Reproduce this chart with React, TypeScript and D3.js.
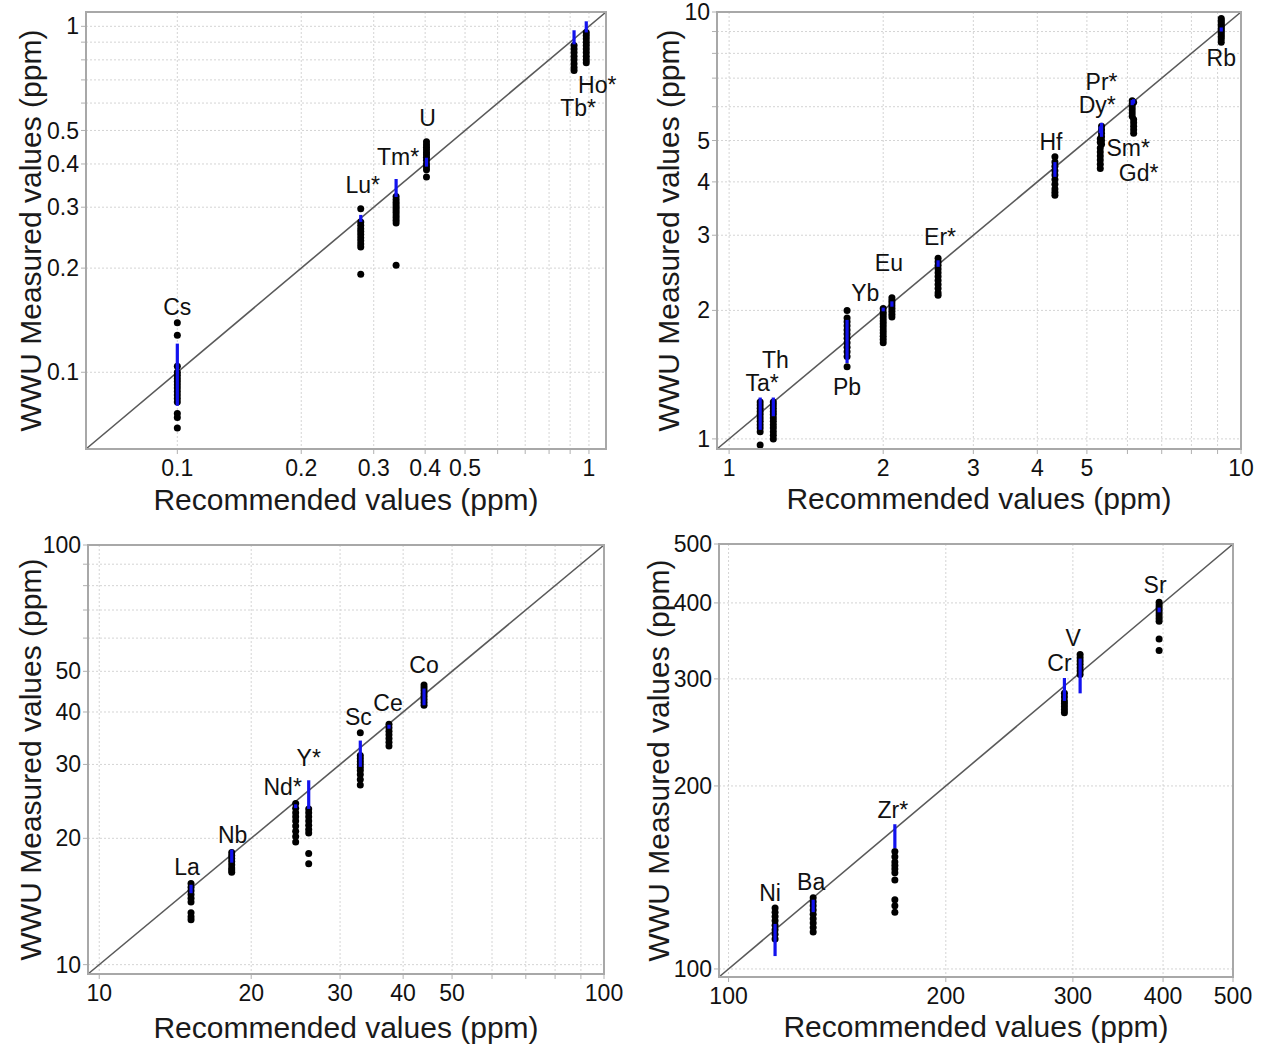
import * as d3 from 'd3';

// ---- panel 1 : elements below 1 ppm
const p1Elements = ['Cs', 'Lu*', 'Tm*', 'U', 'Tb*', 'Ho*'];
const p1Recommended = [0.1, 0.279, 0.34, 0.403, 0.92, 0.985];
const p1RecLow = [0.08, 0.272, 0.321, 0.393, 0.887, 0.96];
const p1RecHigh = [0.121, 0.285, 0.362, 0.417, 0.974, 1.034];
const p1Measured = [
  [0.139, 0.128, 0.104, 0.1, 0.098, 0.096, 0.094, 0.092, 0.09, 0.088, 0.086, 0.084, 0.082, 0.076, 0.074, 0.069],
  [0.297, 0.272, 0.266, 0.26, 0.255, 0.25, 0.245, 0.24, 0.235, 0.23, 0.192],
  [0.322, 0.316, 0.31, 0.305, 0.3, 0.295, 0.29, 0.285, 0.28, 0.275, 0.27, 0.204],
  [0.464, 0.455, 0.447, 0.44, 0.432, 0.425, 0.418, 0.41, 0.4, 0.393, 0.385, 0.367],
  [0.88, 0.86, 0.84, 0.82, 0.8, 0.78, 0.76, 0.745],
  [0.96, 0.94, 0.92, 0.9, 0.88, 0.86, 0.84, 0.82, 0.8, 0.785],
];
const p1Ticks = [0.1, 0.2, 0.3, 0.4, 0.5, 1];
const p1Grid = [0.1, 0.2, 0.3, 0.4, 0.5, 0.6, 0.7, 0.8, 0.9, 1];

// ---- panel 2 : 1 - 10 ppm
const p2Elements = ['Ta*', 'Th', 'Pb', 'Yb', 'Eu', 'Er*', 'Hf', 'Pr*', 'Dy*', 'Sm*', 'Gd*', 'Rb'];
const p2Recommended = [1.15, 1.22, 1.7, 2.0, 2.08, 2.56, 4.33, 5.34, 5.31, 6.13, 6.17, 9.15];
const p2RecLow = [1.05, 1.13, 1.506, 1.99, 2.04, 2.53, 4.11, 5.1, 5.2, 6.05, 6.1, 9.0];
const p2RecHigh = [1.25, 1.25, 1.9, 2.03, 2.1, 2.62, 4.45, 5.5, 5.4, 6.22, 6.25, 9.2];
const p2Measured = [
  [1.22, 1.2, 1.18, 1.16, 1.14, 1.12, 1.1, 1.08, 1.06, 1.04, 0.968],
  [1.22, 1.2, 1.18, 1.16, 1.14, 1.12, 1.1, 1.08, 1.06, 1.04, 1.02, 1.0],
  [2.0, 1.92, 1.88, 1.84, 1.8, 1.76, 1.72, 1.68, 1.64, 1.6, 1.56, 1.475],
  [2.02, 1.98, 1.95, 1.92, 1.89, 1.86, 1.83, 1.8, 1.77, 1.74, 1.71, 1.68],
  [2.14, 2.11, 2.08, 2.05, 2.02, 1.99, 1.96, 1.93],
  [2.65, 2.6, 2.55, 2.5, 2.45, 2.4, 2.35, 2.3, 2.25, 2.2, 2.17],
  [4.58, 4.45, 4.35, 4.25, 4.15, 4.05, 3.95, 3.85, 3.78, 3.72],
  [5.4, 5.3, 5.2, 5.1, 5.0, 4.9],
  [5.05, 4.95, 4.8, 4.7, 4.6, 4.5, 4.4, 4.3],
  [6.2, 6.1, 6.0, 5.9, 5.8, 5.7],
  [6.15, 5.6, 5.5, 5.4, 5.3, 5.2],
  [9.65, 9.55, 9.45, 9.35, 9.25, 9.15, 9.05, 8.95, 8.85, 8.75, 8.65, 8.5],
];
const p2Ticks = [1, 2, 3, 4, 5, 10];
const p2Grid = [1, 2, 3, 4, 5, 6, 7, 8, 9, 10];

// ---- panel 3 : 10 - 100 ppm
const p3Elements = ['La', 'Nb', 'Nd*', 'Y*', 'Sc', 'Ce', 'Co'];
const p3Recommended = [15.2, 18.3, 24.5, 26, 32.9, 37.5, 44];
const p3RecLow = [14.8, 17.5, 23.6, 23.5, 29.6, 36.5, 41.5];
const p3RecHigh = [15.5, 18.8, 24.1, 27.5, 34.2, 37.3, 45.5];
const p3Measured = [
  [15.6, 15.3, 15.0, 14.7, 14.4, 14.1, 13.3, 13.0, 12.8],
  [18.5, 18.2, 17.9, 17.6, 17.3, 17.0, 16.8, 16.6],
  [24.2, 23.6, 23.0, 22.5, 22.0, 21.4, 20.8, 20.2, 19.6],
  [23.5, 23.0, 22.5, 22.0, 21.5, 21.0, 20.6, 18.4, 17.4],
  [35.7, 31.5, 31.0, 30.5, 30.0, 29.5, 29.0, 28.4, 27.6, 26.8],
  [37.4, 36.7, 36.0, 35.3, 34.6, 33.9, 33.2],
  [46.4, 45.7, 45.0, 44.3, 43.6, 42.9, 42.2, 41.5],
];
const p3Ticks = [10, 20, 30, 40, 50, 100];
const p3Grid = [10, 20, 30, 40, 50, 60, 70, 80, 90, 100];

// ---- panel 4 : 100 - 500 ppm
const p4Elements = ['Ni', 'Ba', 'Zr*', 'Cr', 'V', 'Sr'];
const p4Recommended = [116, 131, 170, 292, 307, 395];
const p4RecLow = [105, 124, 158, 276, 284, 386];
const p4RecHigh = [118.6, 130, 173, 301, 324, 393];
const p4Measured = [
  [126, 124, 122, 120, 118, 116, 114, 112],
  [131, 129, 127, 125, 123, 121, 119, 117, 115],
  [156, 153, 150, 148, 146, 144, 140, 130, 127, 124],
  [284, 280, 276, 273, 270, 267, 264],
  [329, 325, 321, 317, 313, 309, 305],
  [401, 397, 393, 389, 385, 381, 377, 373, 349, 334],
];
const p4Ticks = [100, 200, 300, 400, 500];
const p4Grid = [100, 200, 300, 400, 500];

const xTitle = 'Recommended values (ppm)';
const yTitle = 'WWU Measured values (ppm)';

const FONT = "'Liberation Sans', Arial, sans-serif";

type Panel = {
  box: [number, number, number, number]; // x0, y0, x1, y1
  domain: [number, number];
  ticks: number[];
  grid: number[];
  elements: string[];
  recommended: number[];
  recLow: number[];
  recHigh: number[];
  measured: number[][];
  labelDx: number[];
  labelDy: number[];
  yTitleX: number;
  xTitleY: number;
};

const panels: Panel[] = [
  {
    box: [86, 12, 606, 449], domain: [0.06, 1.1], ticks: p1Ticks, grid: p1Grid,
    elements: p1Elements, recommended: p1Recommended, recLow: p1RecLow, recHigh: p1RecHigh, measured: p1Measured,
    labelDx: [0, 2, 2, 1, 4, 11], labelDy: [-65, -33, -31, -45, 69, 56],
    yTitleX: 30, xTitleY: 499,
  },
  {
    box: [717, 12, 1241, 449], domain: [0.947, 10], ticks: p2Ticks, grid: p2Grid,
    elements: p2Elements, recommended: p2Recommended, recLow: p2RecLow, recHigh: p2RecHigh, measured: p2Measured,
    labelDx: [2, 2, 0, -18, -3, 2, -4, 0, -3, -4, 5, 0], labelDy: [-30, -42, 46, -17, -40, -28, -25, -46, -24, 45, 71, 29],
    yTitleX: 668, xTitleY: 498,
  },
  {
    box: [88, 545, 604, 974], domain: [9.5, 100], ticks: p3Ticks, grid: p3Grid,
    elements: p3Elements, recommended: p3Recommended, recLow: p3RecLow, recHigh: p3RecHigh, measured: p3Measured,
    labelDx: [-4, 1, -13, 0, -2, -1, 0], labelDy: [-21, -20, -14, -33, -31, -21, -30],
    yTitleX: 30, xTitleY: 1027,
  },
  {
    box: [719, 544, 1233, 977], domain: [97, 500], ticks: p4Ticks, grid: p4Grid,
    elements: p4Elements, recommended: p4Recommended, recLow: p4RecLow, recHigh: p4RecHigh, measured: p4Measured,
    labelDx: [-5, -2, -2, -5, -7, -4], labelDy: [-37, -16, -19, -23, -35, -21],
    yTitleX: 658, xTitleY: 1026,
  },
];

function ScatterPanel({ p }: { p: Panel }) {
  const [x0, y0, x1, y1] = p.box;
  const x = d3.scaleLog().domain(p.domain).range([x0, x1]);
  const y = d3.scaleLog().domain(p.domain).range([y1, y0]);
  const cx = (x0 + x1) / 2;
  const cy = (y0 + y1) / 2;

  return (
    <g>
      {/* grid */}
      {p.grid.map((g) => (
        <g key={'g' + g}>
          <line x1={x(g)} x2={x(g)} y1={y0} y2={y1} stroke='#d4d4d4' strokeWidth={1} strokeDasharray='2,2' />
          <line x1={x0} x2={x1} y1={y(g)} y2={y(g)} stroke='#d4d4d4' strokeWidth={1} strokeDasharray='2,2' />
          <line x1={x(g)} x2={x(g)} y1={y1} y2={y1 + 5} stroke='#b0b0b0' strokeWidth={1} />
          <line x1={x0 - 5} x2={x0} y1={y(g)} y2={y(g)} stroke='#b0b0b0' strokeWidth={1} />
        </g>
      ))}
      {/* 1:1 line */}
      <line x1={x(p.domain[0])} y1={y(p.domain[0])} x2={x(p.domain[1])} y2={y(p.domain[1])} stroke='#5a5a5a' strokeWidth={1.6} />
      {/* measured dots */}
      {p.measured.map((vals, i) =>
        vals.map((v, j) => (
          <circle key={`d${i}-${j}`} cx={x(p.recommended[i])} cy={y(v)} r={3.5} fill='#000' />
        ))
      )}
      {/* recommended value uncertainty */}
      {p.recommended.map((r, i) => (
        <line key={'b' + i} x1={x(r)} x2={x(r)} y1={y(p.recLow[i])} y2={y(p.recHigh[i])} stroke='#1212ee' strokeWidth={3.2} />
      ))}
      {/* frame */}
      <rect x={x0} y={y0} width={x1 - x0} height={y1 - y0} fill='none' stroke='#a8a8a8' strokeWidth={2} />
      {/* element labels */}
      {p.elements.map((el, i) => (
        <text key={'l' + el} x={x(p.recommended[i]) + p.labelDx[i]} y={y(p.recommended[i]) + p.labelDy[i]}
          dy='0.35em' textAnchor='middle' fontSize={23} fill='#111'>{el}</text>
      ))}
      {/* tick labels */}
      {p.ticks.map((t) => (
        <text key={'tx' + t} x={x(t)} y={y1 + 19} dy='0.35em' textAnchor='middle' fontSize={23} fill='#111'>{String(t)}</text>
      ))}
      {p.ticks.map((t) => (
        <text key={'ty' + t} x={x0 - 7} y={y(t)} dy='0.35em' textAnchor='end' fontSize={23} fill='#111'>{String(t)}</text>
      ))}
      {/* axis titles */}
      <text x={cx} y={p.xTitleY} dy='0.35em' textAnchor='middle' fontSize={30} fill='#1a1a1a'>{xTitle}</text>
      <text transform={`translate(${p.yTitleX},${cy}) rotate(-90)`} dy='0.35em' textAnchor='middle' fontSize={30} fill='#1a1a1a'>{yTitle}</text>
    </g>
  );
}

export default function App() {
  return (
    <svg width={1262} height={1053} style={{ position: 'absolute', left: 0, top: 0, background: '#fff' }} fontFamily={FONT}>
      {panels.map((p, i) => <ScatterPanel key={i} p={p} />)}
    </svg>
  );
}
